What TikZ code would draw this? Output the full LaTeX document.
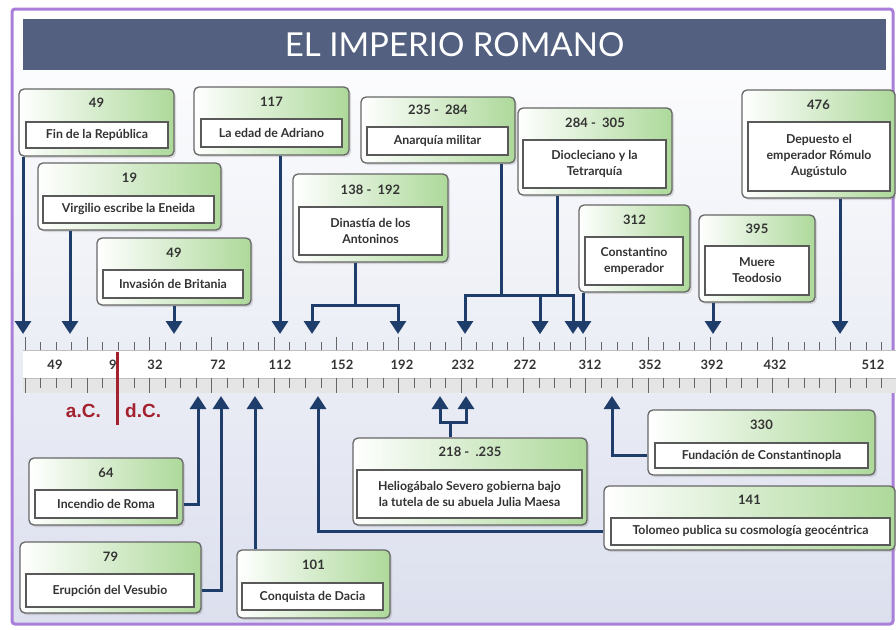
\documentclass[tikz,border=0pt]{standalone}
\usepackage{fontspec}
\setmainfont{Lato}
\newfontfamily\arialfam{Liberation Sans}
\usetikzlibrary{arrows.meta,shadows}

\definecolor{marco}{HTML}{A97FD9}
\definecolor{fondo}{HTML}{DCE0EE}
\definecolor{titulo}{HTML}{536080}
\definecolor{flechaazul}{HTML}{1F3D6B}
\definecolor{verdecaja}{HTML}{ADD99A}
\definecolor{rojoac}{HTML}{A3212C}
\definecolor{textogris}{HTML}{333333}

\begin{document}
\begin{tikzpicture}[x=1pt, y=-1pt,
    caja/.style={rounded corners=5pt, draw=black!60, line width=1.3pt,
      left color=white, right color=verdecaja, inner sep=0pt,
      drop shadow={opacity=0.25, shadow xshift=2pt, shadow yshift=-2pt}},
    desc/.style={draw=black!65, line width=1.5pt, fill=white, inner sep=1pt,
      align=center, text=textogris, font=\fontsize{12.3}{16}\selectfont\bfseries},
    anio/.style={text=textogris, font=\fontsize{13}{14}\selectfont\bfseries},
    numregla/.style={text=textogris, font=\fontsize{13}{14}\selectfont\bfseries},
    regla/.style={draw=black!60, line width=1pt},
    linea/.style={draw=flechaazul, line width=3pt},
    flecha/.style={draw=flechaazul, line width=3pt, -{Triangle[width=16pt,length=13pt]}},
    banner/.style={fill=titulo, minimum width=863, minimum height=51, inner sep=0pt,
      text=white, font=\fontsize{33}{36}\selectfont}
  ]
  \useasboundingbox (0,0) rectangle (896,629);

  % fondo y marco
  \fill[white] (0,0) rectangle (896,629);
  \shade[top color=white, bottom color=fondo] (12,9) rectangle (893,624);
  \draw[marco, line width=3pt, rounded corners=3pt] (12,9) rectangle (893,624);
  \node[banner] (titulo) at (454.5,44.5) {EL IMPERIO ROMANO};

  % regla
  \fill[black!10] (23,378) rectangle (896,393);
  \fill[white] (23,350) rectangle (896,378);
  \draw[black!25] (23,350) -- (896,350) (23,378) -- (896,378);
  \foreach \i in {0,...,56}{
    \pgfmathtruncatemacro\largo{mod(\i,4)==0 ? 13 : 8}
    \draw[regla] (25+15.58*\i,350) -- ++(0,-\largo);
    \draw[regla] (25+15.58*\i,378) -- ++(0,\largo+2);
  }
  \foreach \x/\t in {55/49, 113/9, 155/32, 218/72, 280/112, 342/152, 402/192,
      463/232, 525/272, 590/312, 650/352, 712/392, 775/432, 873/512}
    \node[numregla] (r\t) at (\x,365) {\t};

  \draw[rojoac, line width=3pt] (117,352) -- (117,425);
  \node[anchor=east, inner sep=0pt, text=rojoac, font=\arialfam\fontsize{19}{20}\selectfont\bfseries] (ac) at (101,411) {a.C.};
  \node[anchor=west, inner sep=0pt, text=rojoac, font=\arialfam\fontsize{19}{20}\selectfont\bfseries] (dc) at (125,411) {d.C.};

  % puntos de la regla
  \coordinate (t49) at (23,334);
  \coordinate (t19) at (70,334);
  \coordinate (t49b) at (174,334);
  \coordinate (t117) at (280,334);
  \coordinate (t138) at (312,334);
  \coordinate (t192) at (398,334);
  \coordinate (t235) at (465,334);
  \coordinate (t284) at (540,334);
  \coordinate (t305) at (573,334);
  \coordinate (t312) at (583,334);
  \coordinate (t395) at (713,334);
  \coordinate (t476) at (840,334);
  \coordinate (t64) at (198,396);
  \coordinate (t79) at (221,396);
  \coordinate (t101) at (255,396);
  \coordinate (t141) at (318,396);
  \coordinate (t218) at (440,396);
  \coordinate (t235b) at (466,396);
  \coordinate (t330) at (612,396);
  \coordinate (jant) at (355,305);
  \coordinate (janar) at (501,295);
  \coordinate (jdio) at (557,295);
  \coordinate (jhel) at (450,422);

  % cajas de arriba
  \node[caja, minimum width=155, minimum height=67] (fin) at (96.5,122.5) {};
  \node[anio] (finA) at (96.5,103) {49};
  \node[desc, minimum width=142, minimum height=26] (finD) at (97,135) {Fin de la República};

  \node[caja, minimum width=183, minimum height=67] (virgilio) at (129.5,196.5) {};
  \node[anio] (virgilioA) at (129.5,178) {19};
  \node[desc, minimum width=171, minimum height=27] (virgilioD) at (128.5,209.5) {Virgilio escribe la Eneida};

  \node[caja, minimum width=154, minimum height=67] (britania) at (174,271.5) {};
  \node[anio] (britaniaA) at (174,253) {49};
  \node[desc, minimum width=140, minimum height=28] (britaniaD) at (173,284) {Invasión de Britania};

  \node[caja, minimum width=155, minimum height=68] (adriano) at (271.5,121) {};
  \node[anio] (adrianoA) at (271.5,102) {117};
  \node[desc, minimum width=141, minimum height=28] (adrianoD) at (271.5,133) {La edad de Adriano};

  \node[caja, minimum width=155, minimum height=88] (antoninos) at (370.5,218) {};
  \node[anio] (antoninosA) at (370.5,190) {138 -\ \ 192};
  \node[desc, minimum width=143, minimum height=48] (antoninosD) at (370.5,231) {Dinastía de los\\Antoninos};

  \node[caja, minimum width=154, minimum height=66] (anarquia) at (438,130) {};
  \node[anio] (anarquiaA) at (438,110) {235 -\ \ 284};
  \node[desc, minimum width=141, minimum height=28] (anarquiaD) at (437.5,141) {Anarquía militar};

  \node[caja, minimum width=154, minimum height=87] (dio) at (595,151.5) {};
  \node[anio] (dioA) at (595,123) {284 -\ \ 305};
  \node[desc, minimum width=143, minimum height=48] (dioD) at (594.5,164) {Diocleciano y la\\Tetrarquía};

  \node[caja, minimum width=111, minimum height=87] (const) at (634.5,248.5) {};
  \node[anio] (constA) at (634.5,220) {312};
  \node[desc, minimum width=98, minimum height=48] (constD) at (634,261) {Constantino\\emperador};

  \node[caja, minimum width=116, minimum height=87] (teodosio) at (757,258.5) {};
  \node[anio] (teodosioA) at (757,229) {395};
  \node[desc, minimum width=104, minimum height=49] (teodosioD) at (757,270.5) {Muere\\Teodosio};

  \node[caja, minimum width=153, minimum height=108] (romulo) at (818.5,144) {};
  \node[anio] (romuloA) at (818.5,105) {476};
  \node[desc, minimum width=142, minimum height=69] (romuloD) at (819,156.5) {Depuesto el\\emperador Rómulo\\Augústulo};

  % cajas de abajo
  \node[caja, minimum width=154, minimum height=67] (incendio) at (106,491.5) {};
  \node[anio] (incendioA) at (106,473) {64};
  \node[desc, minimum width=142, minimum height=28] (incendioD) at (106,504) {Incendio de Roma};

  \node[caja, minimum width=181, minimum height=71] (vesubio) at (110.5,577.5) {};
  \node[anio] (vesubioA) at (110.5,557) {79};
  \node[desc, minimum width=168, minimum height=33] (vesubioD) at (110,590.5) {Erupción del Vesubio};

  \node[caja, minimum width=153, minimum height=68] (dacia) at (313.5,584) {};
  \node[anio] (daciaA) at (313.5,565) {101};
  \node[desc, minimum width=141, minimum height=27] (daciaD) at (312.5,596.5) {Conquista de Dacia};

  \node[caja, minimum width=234, minimum height=87] (helio) at (470,481.5) {};
  \node[anio] (helioA) at (470,452) {218 -\ \ .235};
  \node[desc, minimum width=225, minimum height=48] (helioD) at (469.5,494) {Heliogábalo Severo gobierna bajo\\la tutela de su abuela Julia Maesa};

  \node[caja, minimum width=227, minimum height=65] (fundacion) at (761.5,442.5) {};
  \node[anio] (fundacionA) at (761.5,425) {330};
  \node[desc, minimum width=213, minimum height=25] (fundacionD) at (761.5,455.5) {Fundación de Constantinopla};

  \node[caja, minimum width=291, minimum height=64] (tolomeo) at (749.5,518) {};
  \node[anio] (tolomeoA) at (749.5,500) {141};
  \node[desc, minimum width=279, minimum height=27] (tolomeoD) at (750.5,531.5) {Tolomeo publica su cosmología geocéntrica};

  % flechas hacia abajo
  \draw[flecha] (fin.south -| t49) -- (t49);
  \draw[flecha] (virgilio.south -| t19) -- (t19);
  \draw[flecha] (britania.south -| t49b) -- (t49b);
  \draw[flecha] (adriano.south -| t117) -- (t117);
  \draw[linea] (antoninos.south -| jant) -- (jant);
  \draw[flecha] (jant) -| (t138);
  \draw[flecha] (jant) -| (t192);
  \draw[linea] (anarquia.south -| janar) -- (janar);
  \draw[flecha] (janar) -| (t235);
  \draw[flecha] (janar) -| (t284);
  \draw[linea] (dio.south -| jdio) -- (jdio);
  \draw[flecha] (jdio) -| (t284);
  \draw[flecha] (jdio) -| (t305);
  \draw[flecha] (const.south -| t312) -- (t312);
  \draw[flecha] (teodosio.south -| t395) -- (t395);
  \draw[flecha] (romulo.south -| t476) -- (t476);

  % flechas hacia arriba
  \draw[flecha] (incendioD.east -| incendio.east) -| (t64);
  \draw[flecha] (vesubioD.east -| vesubio.east) -| (t79);
  \draw[flecha] (dacia.north -| t101) -- (t101);
  \draw[flecha] (tolomeoD.west -| tolomeo.west) -| (t141);
  \draw[linea] (helio.north -| jhel) -- (jhel);
  \draw[flecha] (jhel) -| (t218);
  \draw[flecha] (jhel) -| (t235b);
  \draw[flecha] (fundacionD.west -| fundacion.west) -| (t330);
\end{tikzpicture}
\end{document}
